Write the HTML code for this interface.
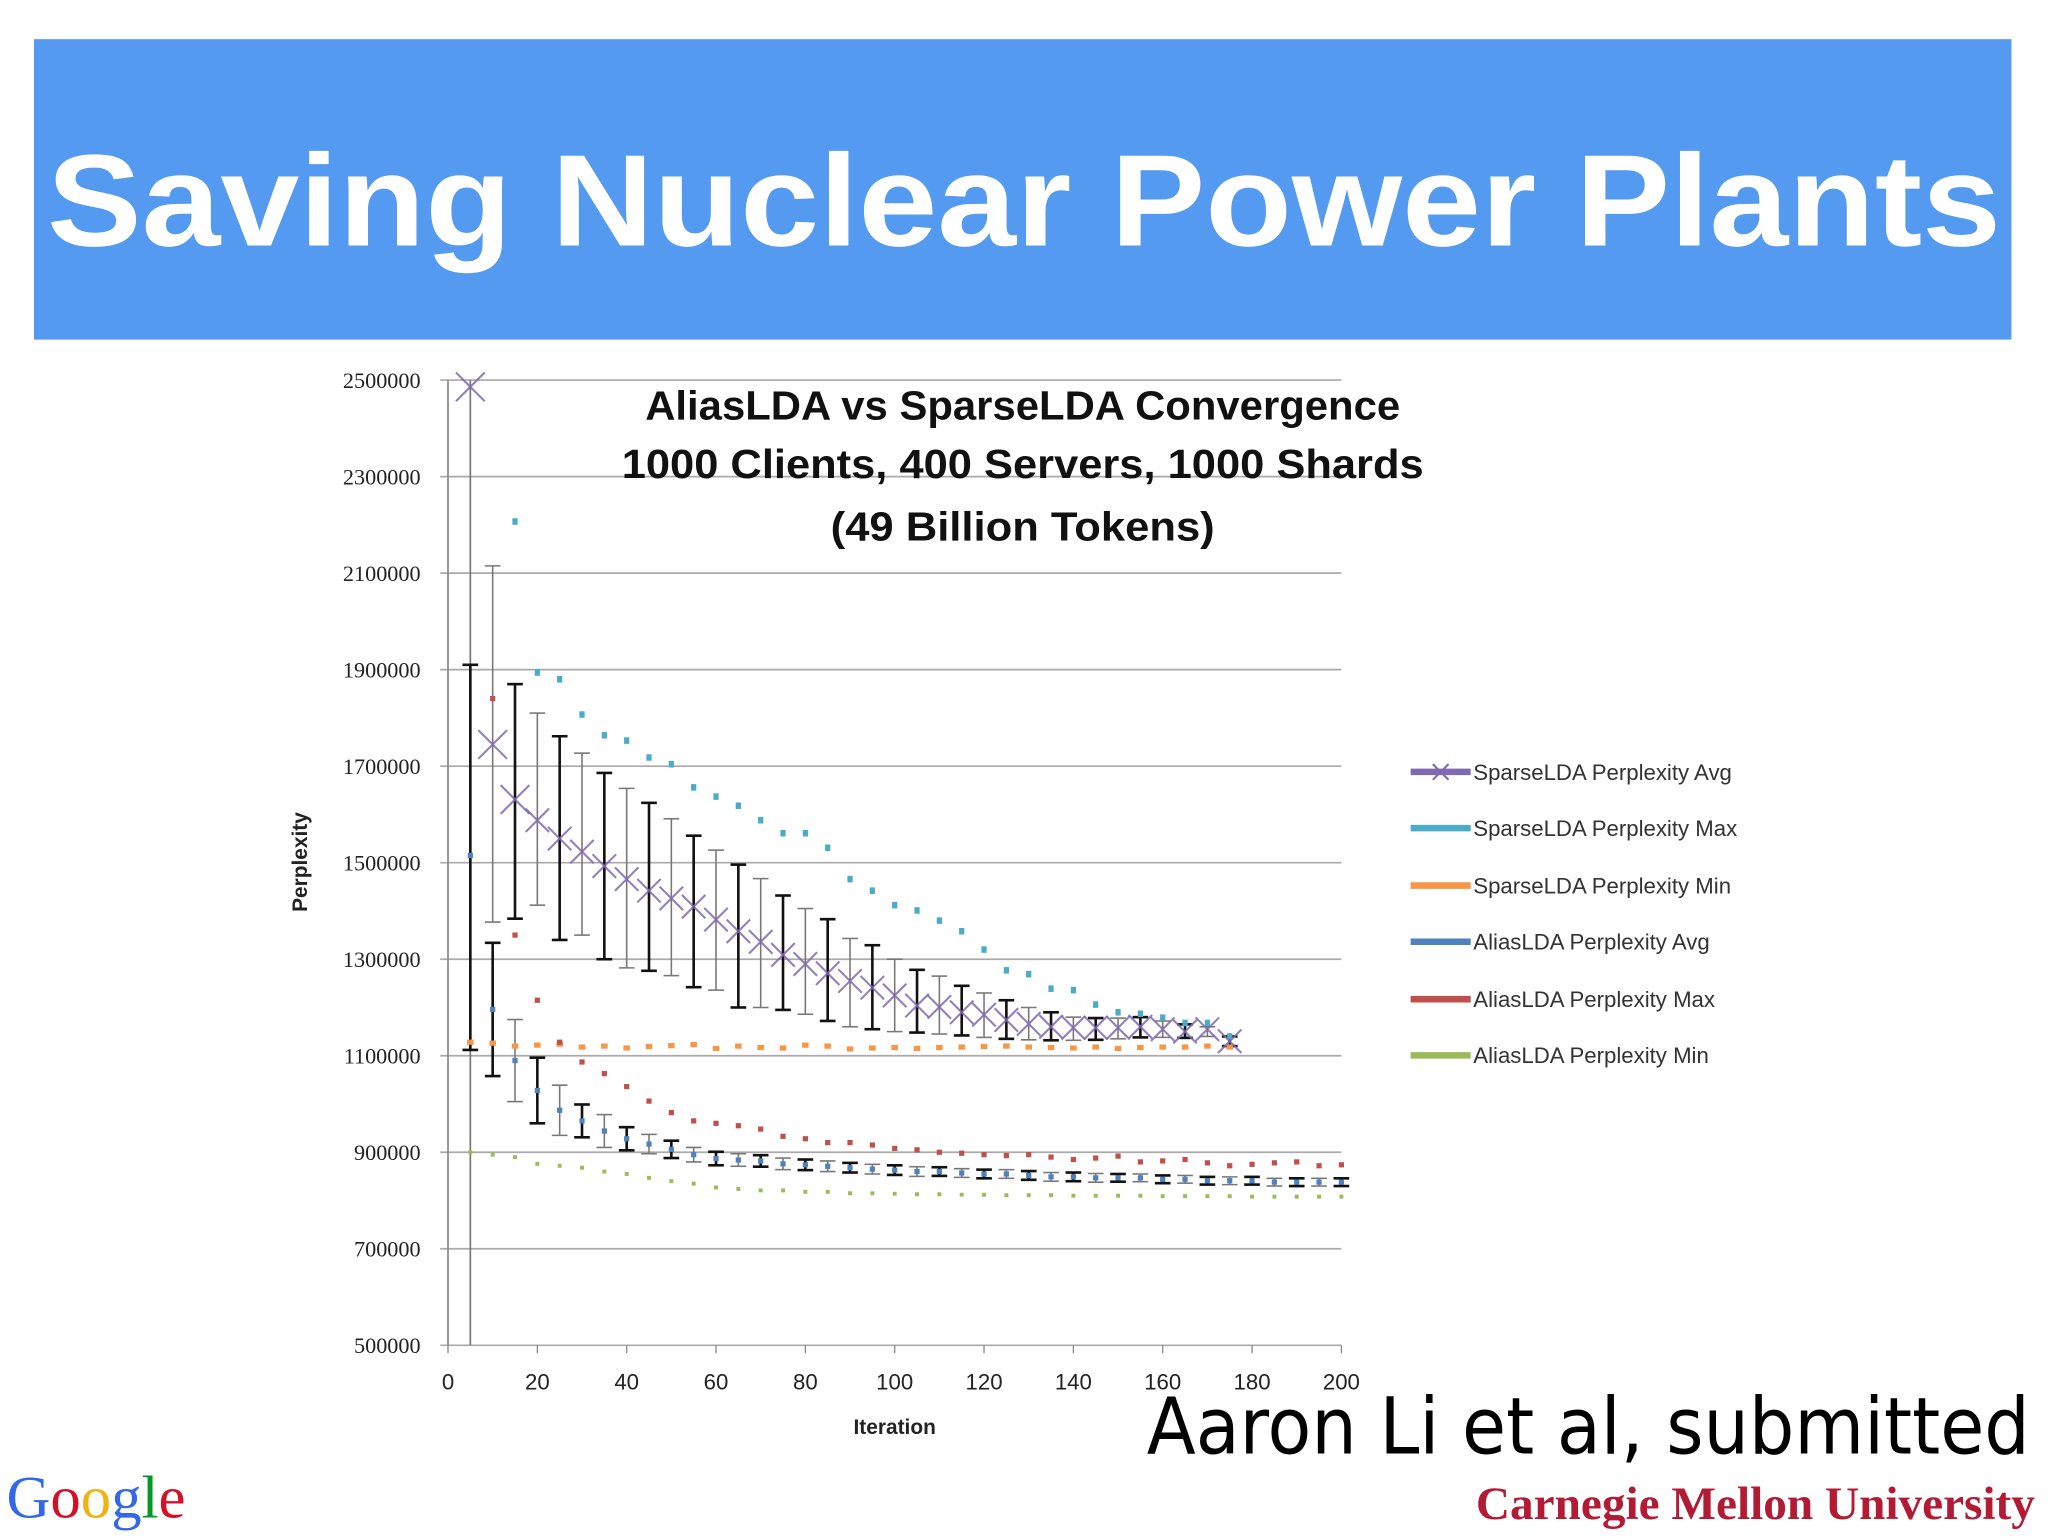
<!DOCTYPE html>
<html><head><meta charset="utf-8"><style>
html,body{margin:0;padding:0;background:#fff;width:2048px;height:1536px;overflow:hidden}
svg{display:block}
</style></head><body>
<svg id="s" width="2048" height="1536" viewBox="0 0 1568 1176" xmlns="http://www.w3.org/2000/svg">
<rect x="26" y="30" width="1514" height="230" fill="#539af0"/>
<text x="36" y="188" font-family="Liberation Sans, sans-serif" font-weight="bold" font-size="100" fill="#fff" textLength="1496" lengthAdjust="spacingAndGlyphs">Saving Nuclear Power Plants</text>
<g id="chart"></g>
<g font-family="Liberation Sans, sans-serif" font-weight="bold" font-size="31" text-anchor="middle" fill="#111">
<text x="783" y="321" textLength="578" lengthAdjust="spacingAndGlyphs">AliasLDA vs SparseLDA Convergence</text>
<text x="783" y="366" textLength="614" lengthAdjust="spacingAndGlyphs">1000 Clients, 400 Servers, 1000 Shards</text>
<text x="783" y="414" textLength="294" lengthAdjust="spacingAndGlyphs">(49 Billion Tokens)</text>
</g>
<text transform="translate(235,660) rotate(-90)" text-anchor="middle" font-family="Liberation Sans, sans-serif" font-weight="bold" font-size="16" fill="#222">Perplexity</text>
<text x="685" y="1098" text-anchor="middle" font-family="Liberation Sans, sans-serif" font-weight="bold" font-size="16" fill="#222">Iteration</text>
<g id="legend" font-family="Liberation Sans, sans-serif" font-size="17" fill="#333"></g>
<text x="878" y="1113" font-family="DejaVu Sans, sans-serif" font-size="60" fill="#000" textLength="676" lengthAdjust="spacingAndGlyphs">Aaron Li et al, submitted</text>
<text x="1130" y="1163" font-family="Liberation Serif, serif" font-weight="bold" font-size="36" fill="#b31b34" textLength="428" lengthAdjust="spacingAndGlyphs">Carnegie Mellon University</text>
<text x="5" y="1162" font-family="Liberation Serif, serif" font-size="46" textLength="137" lengthAdjust="spacingAndGlyphs"><tspan fill="#3369e8">G</tspan><tspan fill="#d50f25">o</tspan><tspan fill="#eeb211">o</tspan><tspan fill="#3369e8">g</tspan><tspan fill="#009925">l</tspan><tspan fill="#d50f25">e</tspan></text>
</svg>
<script>
const yTicks=[500000,700000,900000,1100000,1300000,1500000,1700000,1900000,2100000,2300000,2500000];
const xTicks=[0,20,40,60,80,100,120,140,160,180,200];
const sparseIter=[5,10,15,20,25,30,35,40,45,50,55,60,65,70,75,80,85,90,95,100,105,110,115,120,125,130,135,140,145,150,155,160,165,170,175];
const sparseAvg=[2486000,1745000,1631000,1588000,1550000,1523000,1493000,1466000,1442000,1426000,1409000,1382000,1358000,1336000,1309000,1290000,1271000,1255000,1241000,1225000,1204000,1201000,1190000,1185000,1174000,1166000,1160000,1158000,1158000,1158000,1160000,1155000,1150000,1155000,1130000];
const sparseHi=[1910000,2115000,1870000,1810000,1762000,1727000,1686000,1654000,1624000,1591000,1556000,1526000,1496000,1467000,1432000,1405000,1383000,1343000,1329000,1300000,1278000,1265000,1245000,1230000,1215000,1200000,1190000,1180000,1178000,1178000,1180000,1172000,1165000,1160000,1140000];
const sparseLo=[1112000,1377000,1384000,1412000,1340000,1350000,1300000,1282000,1276000,1266000,1242000,1236000,1200000,1200000,1195000,1186000,1172000,1160000,1155000,1150000,1148000,1145000,1142000,1138000,1135000,1133000,1132000,1132000,1133000,1135000,1138000,1138000,1137000,1140000,1120000];
const sparseMax=[null,null,2207000,1894000,1880000,1807000,1764000,1753000,1718000,1704000,1656000,1637000,1618000,1588000,1561000,1561000,1531000,1466000,1442000,1412000,1401000,1380000,1358000,1320000,1277000,1269000,1239000,1236000,1206000,1190000,1187000,1179000,1168000,1168000,1140000];
const sparseMin=[1128000,1126000,1120000,1122000,1124000,1118000,1120000,1116000,1119000,1121000,1123000,1115000,1120000,1117000,1116000,1122000,1120000,1114000,1116000,1117000,1115000,1117000,1118000,1119000,1120000,1118000,1117000,1116000,1118000,1115000,1117000,1118000,1118000,1120000,1118000];
const aliasIter=[5,10,15,20,25,30,35,40,45,50,55,60,65,70,75,80,85,90,95,100,105,110,115,120,125,130,135,140,145,150,155,160,165,170,175,180,185,190,195,200];
const aliasAvg=[1515000,1196000,1090000,1028000,987000,965000,944000,928000,917000,906000,895000,887000,884000,882000,876000,874000,871000,868000,865000,863000,860000,860000,857000,855000,855000,852000,849000,849000,847000,847000,847000,844000,844000,841000,841000,841000,838000,838000,838000,838000];
const aliasErr=[0,138000,85000,68000,52000,34000,34000,24000,20000,18000,15000,14000,13000,12000,12000,11000,11000,10000,10000,10000,10000,9000,9000,9000,9000,9000,9000,9000,9000,8000,8000,8000,8000,8000,8000,8000,8000,8000,8000,8000];
const aliasMax=[null,1840000,1350000,1215000,1128000,1087000,1063000,1036000,1006000,982000,965000,960000,955000,948000,933000,928000,920000,920000,915000,908000,905000,900000,898000,895000,893000,895000,890000,885000,888000,892000,880000,882000,885000,878000,872000,875000,878000,880000,872000,874000];
const aliasMin=[900000,895000,890000,876000,872000,868000,860000,855000,847000,840000,835000,827000,824000,821000,821000,818000,818000,815000,815000,814000,813000,813000,812000,812000,811000,811000,811000,810000,810000,810000,810000,809000,809000,809000,809000,808000,808000,808000,808000,808000];
const legendLabels=["SparseLDA Perplexity Avg","SparseLDA Perplexity Max","SparseLDA Perplexity Min","AliasLDA Perplexity Avg","AliasLDA Perplexity Max","AliasLDA Perplexity Min"];
const colors=["#7f6ab0","#4bacc6","#f79646","#4f81bd","#c0504d","#9bbb59"];

const NS="http://www.w3.org/2000/svg";
const X0=343,X1=1027,Y0=1030,Y1=291;
const xs=v=>X0+(v/200)*(X1-X0);
const ys=v=>Y0-(v-500000)/2000000*(Y0-Y1);
const chart=document.getElementById('chart');
function mk(tag,a,p){const e=document.createElementNS(NS,tag);for(const k in a)e.setAttribute(k,a[k]);(p||chart).appendChild(e);return e;}

yTicks.forEach(t=>{
  const l=mk('line',{x1:X0-6,x2:X1,y1:ys(t),y2:ys(t),stroke:'#aaa','stroke-width':1.3});
  
  
  const tx=mk('text',{x:322,y:ys(t)+6,'text-anchor':'end','font-family':'Liberation Serif, serif','font-size':17,fill:'#222'});
  tx.textContent=t;
  
  
});
const ax=mk('line',{x1:X0,x2:X0,y1:Y1,y2:Y0,stroke:'#888','stroke-width':1.3});


xTicks.forEach(t=>{
  const l=mk('line',{x1:xs(t),x2:xs(t),y1:Y0,y2:Y0+6,stroke:'#888'});
  
  
  const tx=mk('text',{x:xs(t),y:1064,'text-anchor':'middle','font-family':'Liberation Sans, sans-serif','font-size':17,fill:'#222'});
  tx.textContent=t;
  
  
});
// big vertical error bar at iteration 5
const vb=mk('line',{x1:xs(5),x2:xs(5),y1:Y1,y2:Y0,stroke:'#777','stroke-width':1.3});



function errBar(x,hi,lo,dark,name){
  const g=mk('g',{stroke:dark?'#111':'#777','stroke-width':dark?2:1.2});
  
  
  mk('line',{x1:xs(x),x2:xs(x),y1:ys(hi),y2:ys(lo)},g);
  mk('line',{x1:xs(x)-6,x2:xs(x)+6,y1:ys(hi),y2:ys(hi)},g);
  mk('line',{x1:xs(x)-6,x2:xs(x)+6,y1:ys(lo),y2:ys(lo)},g);
}
function dot(x,v,c,name,w,h){
  if(v==null)return;
  const r=mk('rect',{x:xs(x)-w/2,y:ys(v)-h/2,width:w,height:h,fill:c});
  
  
}
sparseIter.forEach((x,i)=>{errBar(x,sparseHi[i],sparseLo[i],i%2==0,'sparse-error-bar');});
aliasIter.forEach((x,i)=>{if(aliasErr[i]>0)errBar(x,aliasAvg[i]+aliasErr[i],aliasAvg[i]-aliasErr[i],i%2==1,'alias-error-bar');});
sparseIter.forEach((x,i)=>{dot(x,sparseMax[i],colors[1],'sparse-max-point',4,5);dot(x,sparseMin[i],colors[2],'sparse-min-point',5,4);});
aliasIter.forEach((x,i)=>{dot(x,aliasMax[i],colors[4],'alias-max-point',4,4);dot(x,aliasMin[i],colors[5],'alias-min-point',3,3);dot(x,aliasAvg[i],colors[3],'alias-avg-point',4,4);});
sparseIter.forEach((x,i)=>{
  const g=mk('g',{stroke:colors[0],'stroke-width':1.6,opacity:0.85});
  
  
  const cx=xs(x),cy=ys(sparseAvg[i]),s=i<3?11:9;
  mk('line',{x1:cx-s,y1:cy-s,x2:cx+s,y2:cy+s},g);
  mk('line',{x1:cx-s,y1:cy+s,x2:cx+s,y2:cy-s},g);
});
const leg=document.getElementById('legend');
const legY=[591,634,678,721,765,808];
legendLabels.forEach((lab,i)=>{
  const g=mk('g',{},leg);
  
  
  mk('line',{x1:1080,x2:1126,y1:legY[i],y2:legY[i],stroke:colors[i],'stroke-width':5},g);
  if(i==0){mk('path',{d:'M1097 585 L1109 597 M1097 597 L1109 585',stroke:colors[0],'stroke-width':1.6},g);}
  const t=mk('text',{x:1128,y:legY[i]+6},g);t.textContent=lab;
});
</script>
</body></html>
